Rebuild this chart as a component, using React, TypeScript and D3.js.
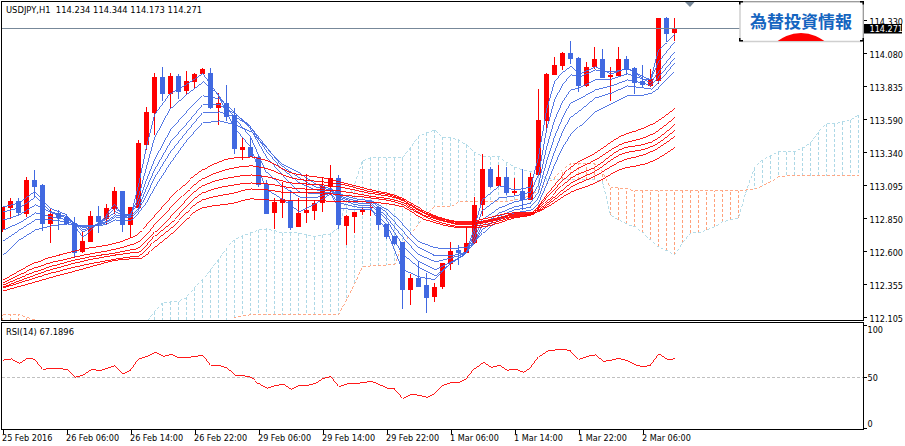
import { useEffect, useRef } from "react";
import * as d3 from "d3";

const WIDTH = 905;
const HEIGHT = 446;
const FONT = "'DejaVu Sans Condensed', 'Liberation Sans', sans-serif";
const FONT_SIZE = "9px";
const TITLE_SIZE = "9.3px";

const UP = "#ff0000";
const DOWN = "#4169e1";
const SLATE = "#778899";
const SPAN_A = "#add8e6";
const SPAN_B = "#ffa07a";

const opens = [
  112.765, 112.922, 112.975, 112.877, 113.132, 113.094, 112.802, 112.885, 112.855, 112.81,
  112.592, 112.667, 112.862, 112.84, 112.915, 113.049, 112.795, 112.922, 113.394, 113.634,
  113.903, 113.776, 113.911, 113.798, 113.866, 113.926, 113.933, 113.671, 113.709, 113.619,
  113.357, 113.379, 113.304, 113.102, 112.885, 112.96, 112.975, 112.78, 112.885, 112.9,
  112.96, 113.079, 113.147, 112.787, 112.855, 112.892, 112.922, 112.93, 112.802, 112.712,
  112.667, 112.308, 112.398, 112.345, 112.255, 112.33, 112.503, 112.608, 112.585, 112.66,
  112.945, 113.214, 113.087, 113.154, 113.034, 113.049, 112.982, 113.169, 113.574, 113.918,
  113.986, 114.083, 114.046, 113.836, 113.978, 114.038, 113.903, 113.911, 114.038, 113.971,
  113.873, 113.836, 113.873, 114.345, 114.234,
];
const highs = [
  112.93, 112.997, 112.997, 113.154, 113.207, 113.102, 112.915, 112.907, 112.877, 112.855,
  112.75, 112.9, 112.937, 112.952, 113.079, 113.049, 112.93, 113.431, 113.679, 113.933,
  113.978, 113.933, 113.926, 113.948, 113.933, 113.971, 113.971, 113.783, 113.843, 113.671,
  113.446, 113.446, 113.319, 113.132, 112.997, 113.117, 113.057, 112.997, 113.177, 112.982,
  113.154, 113.244, 113.169, 112.87, 112.892, 112.93, 112.952, 112.93, 112.802, 112.712,
  112.667, 112.428, 112.525, 112.435, 112.36, 112.51, 112.667, 112.645, 112.78, 113.004,
  113.327, 113.229, 113.244, 113.229, 113.147, 113.214, 113.184, 113.813, 113.933, 114.053,
  114.091, 114.173, 114.053, 114.016, 114.128, 114.113, 113.978, 114.128, 114.061, 113.978,
  113.993, 113.963, 114.345, 114.353, 114.344,
];
const lows = [
  112.742, 112.84, 112.87, 112.855, 113.004, 112.75, 112.66, 112.757, 112.795, 112.548,
  112.585, 112.667, 112.735, 112.795, 112.877, 112.742, 112.697, 112.915, 113.357, 113.469,
  113.724, 113.671, 113.739, 113.768, 113.813, 113.926, 113.664, 113.544, 113.574, 113.327,
  113.282, 113.304, 113.079, 112.877, 112.765, 112.847, 112.757, 112.78, 112.81, 112.832,
  112.892, 113.019, 112.765, 112.645, 112.735, 112.87, 112.862, 112.757, 112.69, 112.645,
  112.166, 112.196, 112.33, 112.136, 112.218, 112.315, 112.458, 112.495, 112.585, 112.652,
  112.862, 113.072, 113.079, 113.019, 113.019, 112.907, 112.982, 113.169, 113.491, 113.918,
  113.956, 114.001, 113.791, 113.828, 113.963, 113.896, 113.724, 113.911, 113.918, 113.776,
  113.828, 113.828, 113.851, 114.165, 114.173,
];
const closes = [
  112.93, 112.975, 112.885, 113.132, 113.079, 112.802, 112.877, 112.847, 112.802, 112.585,
  112.675, 112.862, 112.817, 112.922, 113.049, 112.795, 112.93, 113.409, 113.641, 113.903,
  113.776, 113.911, 113.791, 113.873, 113.926, 113.963, 113.671, 113.709, 113.604, 113.364,
  113.379, 113.304, 113.094, 112.877, 112.967, 112.99, 112.772, 112.885, 112.907, 112.96,
  113.087, 113.147, 112.795, 112.862, 112.892, 112.915, 112.93, 112.795, 112.705, 112.652,
  112.308, 112.398, 112.33, 112.248, 112.33, 112.51, 112.6, 112.585, 112.66, 112.945,
  113.214, 113.079, 113.154, 113.034, 113.049, 112.982, 113.154, 113.581, 113.926, 113.993,
  114.083, 114.038, 113.836, 113.978, 114.038, 113.896, 113.918, 114.038, 113.956, 113.858,
  113.843, 113.888, 114.345, 114.225, 114.271,
];

const blueBars = [
  0, 2, 4, 6, 8, 10, 12, 13, 14, 15, 16, 17, 18, 19, 21, 23, 25, 27, 29, 31, 33, 35, 37, 39, 41, 42,
  44, 46, 48, 50, 52, 54, 56, 58, 59, 60, 62, 64, 66, 67, 68, 69, 70, 71, 72, 74, 76, 78, 80, 81, 82, 83, 84,
];
const blue1 = [
  112.93, 112.96, 113.049, 112.915, 112.87, 112.705, 112.817, 112.87, 112.952, 112.87, 112.855, 113.094, 113.379,
  113.619, 113.783, 113.851, 113.933, 113.761, 113.521, 113.379, 113.057, 112.982, 112.892, 112.952, 113.034, 112.922,
  112.907, 112.915, 112.757, 112.458, 112.405, 112.383, 112.51, 112.592, 112.78, 112.99, 113.087, 113.057, 113.079,
  113.304, 113.656, 113.866, 113.941, 113.986, 113.926, 113.978, 113.926, 113.971, 113.888, 113.881, 114.106, 114.165, 114.225,
];
const blue2 = [
  112.892, 112.922, 113.004, 112.892, 112.855, 112.742, 112.81, 112.855, 112.915, 112.877, 112.87, 113.004, 113.229,
  113.446, 113.671, 113.776, 113.866, 113.768, 113.596, 113.454, 113.184, 113.079, 113.004, 112.997, 113.034, 112.96,
  112.93, 112.922, 112.795, 112.57, 112.473, 112.413, 112.51, 112.585, 112.735, 112.907, 112.997, 113.012, 113.042,
  113.169, 113.506, 113.731, 113.843, 113.918, 113.903, 113.956, 113.941, 113.963, 113.903, 113.881, 114.016, 114.091, 114.165,
];
const blue3 = [
  112.832, 112.87, 112.945, 112.885, 112.847, 112.757, 112.802, 112.847, 112.892, 112.87, 112.877, 112.96, 113.132,
  113.282, 113.506, 113.641, 113.761, 113.739, 113.634, 113.514, 113.304, 113.169, 113.042, 113.027, 113.042, 112.99,
  112.945, 112.937, 112.832, 112.645, 112.518, 112.458, 112.518, 112.585, 112.697, 112.84, 112.922, 112.967, 112.997,
  113.094, 113.372, 113.581, 113.716, 113.806, 113.821, 113.881, 113.888, 113.926, 113.888, 113.858, 113.941, 114.016, 114.091,
];
const blue4 = [
  112.757, 112.81, 112.885, 112.855, 112.832, 112.772, 112.802, 112.825, 112.87, 112.855, 112.87, 112.922, 113.072,
  113.207, 113.416, 113.551, 113.694, 113.694, 113.626, 113.529, 113.349, 113.207, 113.109, 113.057, 113.049, 113.004,
  112.96, 112.952, 112.855, 112.705, 112.57, 112.518, 112.548, 112.585, 112.667, 112.795, 112.885, 112.93, 112.96,
  113.042, 113.267, 113.454, 113.596, 113.709, 113.739, 113.806, 113.836, 113.881, 113.858, 113.836, 113.903, 113.971, 114.046,
];
const blue5 = [
  112.675, 112.757, 112.832, 112.832, 112.817, 112.78, 112.795, 112.817, 112.855, 112.847, 112.855, 112.907, 113.019,
  113.147, 113.342, 113.491, 113.634, 113.641, 113.604, 113.529, 113.379, 113.229, 113.147, 113.079, 113.057, 113.012,
  112.975, 112.967, 112.885, 112.75, 112.623, 112.563, 112.563, 112.592, 112.66, 112.765, 112.862, 112.907, 112.93,
  112.997, 113.169, 113.342, 113.491, 113.604, 113.649, 113.746, 113.783, 113.836, 113.821, 113.813, 113.866, 113.933, 114.008,
];
const blue6 = [
  112.57, 112.682, 112.757, 112.787, 112.802, 112.787, 112.787, 112.802, 112.832, 112.825, 112.832, 112.885, 112.96,
  113.072, 113.259, 113.424, 113.559, 113.574, 113.544, 113.491, 113.372, 113.244, 113.184, 113.102, 113.064, 113.027,
  112.99, 112.975, 112.907, 112.802, 112.667, 112.623, 112.615, 112.63, 112.667, 112.735, 112.84, 112.885, 112.907,
  112.96, 113.094, 113.244, 113.372, 113.469, 113.529, 113.641, 113.701, 113.761, 113.768, 113.783, 113.821, 113.881, 113.941,
];

const redBars = [0, 4, 9, 16, 17, 19, 21, 25, 29, 31, 33, 36, 40, 42, 45, 50, 52, 54, 58, 60, 64, 66, 68, 71, 74, 77, 81, 84];
const red1 = [
  112.383, 112.51, 112.6, 112.697, 112.735, 112.862, 112.997, 113.207, 113.297, 113.304, 113.274, 113.184, 113.147, 113.117,
  113.072, 112.99, 112.922, 112.862, 112.817, 112.84, 112.885, 112.885, 113.019, 113.229, 113.334, 113.454, 113.544, 113.671,
];
const red2 = [
  112.36, 112.473, 112.555, 112.645, 112.667, 112.795, 112.922, 113.139, 113.222, 113.237, 113.214, 113.147, 113.117, 113.102,
  113.057, 112.982, 112.907, 112.855, 112.81, 112.825, 112.877, 112.885, 112.997, 113.184, 113.282, 113.394, 113.469, 113.604,
];
const red3 = [
  112.345, 112.443, 112.533, 112.608, 112.623, 112.742, 112.855, 113.087, 113.154, 113.169, 113.154, 113.109, 113.094, 113.079,
  113.042, 112.975, 112.9, 112.847, 112.802, 112.817, 112.87, 112.877, 112.975, 113.147, 113.229, 113.357, 113.416, 113.551,
];
const red4 = [
  112.33, 112.42, 112.51, 112.585, 112.592, 112.712, 112.81, 113.034, 113.094, 113.109, 113.102, 113.072, 113.057, 113.049,
  113.019, 112.96, 112.885, 112.84, 112.795, 112.81, 112.862, 112.877, 112.96, 113.109, 113.199, 113.319, 113.379, 113.506,
];
const red5 = [
  112.323, 112.398, 112.48, 112.555, 112.563, 112.675, 112.772, 112.982, 113.034, 113.064, 113.057, 113.034, 113.034, 113.019,
  113.004, 112.945, 112.877, 112.825, 112.78, 112.795, 112.855, 112.87, 112.945, 113.079, 113.162, 113.267, 113.342, 113.461,
];
const red6 = [
  112.3, 112.368, 112.45, 112.54, 112.54, 112.63, 112.727, 112.922, 112.96, 112.99, 112.982, 112.975, 112.975, 112.967,
  112.967, 112.93, 112.855, 112.81, 112.772, 112.78, 112.847, 112.87, 112.93, 113.042, 113.109, 113.207, 113.267, 113.379,
];

// cloud runs past the last candle; values under the axis are guesses, they get clipped
const spanA = [
  112, 112, 112, 112, 112, 112, 112, 112, 112, 112, 112, 112, 112, 112, 112, 112, 112, 112,
  112.068, 112.143, 112.211, 112.218, 112.218, 112.256, 112.323, 112.383, 112.458, 112.533, 112.623, 112.682,
  112.712, 112.735, 112.757, 112.765, 112.75, 112.735, 112.735, 112.735, 112.72, 112.705, 112.72, 112.727,
  112.772, 112.982, 113.094, 113.274, 113.297, 113.297, 113.297, 113.297, 113.297, 113.372, 113.461, 113.484,
  113.506, 113.454, 113.446, 113.431, 113.394, 113.334, 113.312, 113.304, 113.304, 113.259, 113.229, 113.207,
  113.192, 113.169, 113.147, 113.132, 113.132, 113.132, 113.132, 113.132, 113.132, 113.117, 112.87, 112.832,
  112.802, 112.78, 112.735, 112.682, 112.63, 112.6, 112.57, 112.66, 112.735, 112.735, 112.757, 112.78,
  112.817, 112.832, 112.847, 113.057, 113.222, 113.282, 113.312, 113.342, 113.342, 113.342, 113.372, 113.409,
  113.491, 113.551, 113.551, 113.566, 113.581, 113.619,
];
const spanB = [
  112.121, 112.121, 112.121, 112.106, 112.083, 112.05, 112.05, 112.05, 112.05, 112.05, 112.05, 112.05, 112.05, 112.05,
  112.05, 112.05, 112.05, 112.05, 112.05, 112.05, 112.05, 112.05, 112.05, 112.05, 112.05, 112.05, 112.05, 112.05, 112.05,
  112.098, 112.113, 112.121, 112.121, 112.121, 112.121, 112.121, 112.121, 112.121, 112.121, 112.121, 112.121, 112.121, 112.121,
  112.233, 112.353, 112.48, 112.488, 112.488, 112.495, 112.495, 112.645, 112.727, 112.802, 112.877, 112.93, 112.93, 112.93,
  112.967, 112.967, 112.967, 112.967, 112.967, 112.967, 112.967, 112.982, 112.997, 113.012, 113.057, 113.102, 113.147, 113.207,
  113.252, 113.252, 113.252, 113.252, 113.192, 113.072, 113.072, 113.064, 113.049, 113.049, 113.049, 113.049, 113.049, 113.049,
  113.049, 113.049, 113.049, 113.049, 113.049, 113.049, 113.049, 113.049, 113.057, 113.064, 113.087, 113.117, 113.154,
  113.162, 113.162, 113.162, 113.162, 113.162, 113.162, 113.162, 113.162, 113.162, 113.162,
];

const rsi = [
  66.1, 67.1, 62.9, 67.7, 66.8, 57.1, 58.1, 58.1, 56.5, 49.4, 51.6, 57.1, 55.8, 58.1, 61.0, 52.9, 56.5, 67.1, 69.7, 73.5,
  69.7, 71.6, 68.1, 68.7, 69.4, 71.0, 61.0, 61.0, 58.1, 51.3, 51.0, 49.4, 42.9, 38.7, 41.3, 42.6, 37.7, 41.6, 41.6, 43.5,
  48.4, 50.3, 40.6, 42.9, 43.5, 44.2, 45.5, 42.3, 39.0, 38.1, 29.0, 32.9, 31.9, 30.0, 33.9, 41.9, 44.5, 44.5, 48.4, 58.1,
  63.9, 59.0, 61.0, 56.1, 57.4, 54.2, 59.0, 69.4, 74.8, 75.8, 76.5, 74.8, 66.8, 69.7, 71.0, 64.8, 66.1, 67.7, 65.2, 61.3,
  59.7, 61.3, 71.6, 66.8, 67.1896,
];

const priceTicks = [114.33, 114.08, 113.835, 113.59, 113.34, 113.095, 112.85, 112.6, 112.355, 112.105];
const rsiTicks = [100, 50, 0];
const timeBars = [0, 8, 16, 24, 32, 40, 48, 56, 64, 72, 80];
const timeLabels = [
  "25 Feb 2016", "26 Feb 06:00", "26 Feb 14:00", "26 Feb 22:00", "29 Feb 06:00", "29 Feb 14:00",
  "29 Feb 22:00", "1 Mar 06:00", "1 Mar 14:00", "1 Mar 22:00", "2 Mar 06:00",
];
const lastPrice = 114.271;

export default function App() {
  const svgRef = useRef<SVGSVGElement | null>(null);

  useEffect(() => {
    const svg = svgRef.current;
    if (!svg) return;
    svg.innerHTML = "";

    const root = d3.select(svg).attr("width", WIDTH).attr("height", HEIGHT).style("font-family", FONT);

    const right = 863.5;
    const x = d3.scaleLinear().domain([0, 100]).range([2.5, 802.5]);
    const y = d3.scaleLinear().domain([112.105, 114.33]).range([317, 20]);
    const yRsi = d3.scaleLinear().domain([0, 100]).range([428.3, 325]);

    const defs = root.append("defs");
    defs.append("clipPath").attr("id", "mainClip")
      .append("rect").attr("x", 2).attr("y", 2).attr("width", 861).attr("height", 318);

    const chart = root.append("g").attr("clip-path", "url(#mainClip)");

    // ichimoku cloud
    const hatch = chart.append("g").attr("shape-rendering", "crispEdges");
    hatch.selectAll("line")
      .data(spanA.map((a, i) => ({ a, b: spanB[i], i })))
      .join("line")
      .attr("x1", (d) => x(d.i)).attr("x2", (d) => x(d.i))
      .attr("y1", (d) => y(d.a)).attr("y2", (d) => y(d.b))
      .attr("stroke", (d) => (d.a >= d.b ? SPAN_A : SPAN_B))
      .attr("stroke-dasharray", "3,2");

    const spanLine = d3.line<number>().x((_, i) => x(i)).y((v) => y(v));
    chart.append("path").attr("d", spanLine(spanA)).attr("fill", "none").attr("stroke-width", 0.9)
      .attr("stroke", SPAN_A).attr("stroke-dasharray", "3,2").attr("shape-rendering", "crispEdges");
    chart.append("path").attr("d", spanLine(spanB)).attr("fill", "none").attr("stroke-width", 0.9)
      .attr("stroke", SPAN_B).attr("stroke-dasharray", "3,2").attr("shape-rendering", "crispEdges");

    // price line sits behind the candles
    root.append("line")
      .attr("x1", 2).attr("x2", right)
      .attr("y1", Math.round(y(lastPrice)) + 0.5).attr("y2", Math.round(y(lastPrice)) + 0.5)
      .attr("stroke", SLATE);

    // candles
    const candles = opens.map((o, i) => ({ o, h: highs[i], l: lows[i], c: closes[i], i }));
    const candleG = chart.append("g").attr("shape-rendering", "crispEdges");
    candleG.selectAll("line")
      .data(candles)
      .join("line")
      .attr("x1", (d) => x(d.i)).attr("x2", (d) => x(d.i))
      .attr("y1", (d) => y(d.h)).attr("y2", (d) => y(d.l))
      .attr("stroke", (d) => (d.c >= d.o ? UP : DOWN));
    candleG.selectAll("rect")
      .data(candles)
      .join("rect")
      .attr("x", (d) => x(d.i) - 2.5)
      .attr("width", 5)
      .attr("y", (d) => y(Math.max(d.o, d.c)))
      .attr("height", (d) => Math.max(1, Math.abs(y(d.o) - y(d.c))))
      .attr("fill", (d) => (d.c >= d.o ? UP : DOWN));

    // moving averages
    const drawMa = (bars: number[], series: number[][], color: string, curve: d3.CurveFactory) => {
      series.forEach((values) => {
        const line = d3.line<number>().x((_, i) => x(bars[i])).y((v) => y(v)).curve(curve);
        chart.append("path")
          .attr("d", line(values))
          .attr("fill", "none")
          .attr("stroke", color)
          .attr("stroke-width", 0.9)
          .attr("shape-rendering", "crispEdges");
      });
    };
    drawMa(blueBars, [blue1, blue2, blue3, blue4, blue5, blue6], DOWN, d3.curveLinear);
    drawMa(redBars, [red1, red2, red3, red4, red5, red6], UP, d3.curveMonotoneX);

    // rsi
    root.append("line")
      .attr("x1", 2).attr("x2", right)
      .attr("y1", Math.round(yRsi(50)) + 0.5).attr("y2", Math.round(yRsi(50)) + 0.5)
      .attr("stroke", "#c0c0c0").attr("stroke-dasharray", "3,2");
    const rsiLine = d3.line<number>().x((_, i) => x(i)).y((v) => yRsi(v));
    root.append("path").attr("d", rsiLine(rsi)).attr("fill", "none")
      .attr("stroke", UP).attr("stroke-width", 0.9).attr("shape-rendering", "crispEdges");

    // frames
    const frame = root.append("g").attr("fill", "none").attr("stroke", "#000").attr("shape-rendering", "crispEdges");
    frame.append("rect").attr("x", 1.5).attr("y", 1.5).attr("width", right - 1.5).attr("height", 319);
    frame.append("rect").attr("x", 1.5).attr("y", 322.5).attr("width", right - 1.5).attr("height", 106.5);

    // axes
    const priceAxis = root.append("g")
      .attr("transform", `translate(${right},0)`)
      .call(d3.axisRight(y).tickValues(priceTicks).tickFormat((v) => d3.format(".3f")(v as number)).tickSize(3).tickSizeOuter(0));
    const rsiAxis = root.append("g")
      .attr("transform", `translate(${right},0)`)
      .call(d3.axisRight(yRsi).tickValues(rsiTicks).tickFormat((v) => `${v}`).tickSize(3).tickSizeOuter(0));
    const timeAxis = root.append("g")
      .attr("transform", "translate(0,429.5)")
      .call(d3.axisBottom(x).tickValues(timeBars).tickFormat((_, i) => timeLabels[i]).tickSize(4).tickSizeOuter(0));

    [priceAxis, rsiAxis, timeAxis].forEach((a) => {
      a.select(".domain").remove();
      a.selectAll("line").attr("stroke", "#000").attr("shape-rendering", "crispEdges");
      a.selectAll("text").attr("fill", "#000").style("font-family", FONT).style("font-size", FONT_SIZE);
    });
    priceAxis.selectAll("text").attr("x", 6).attr("dy", "0.5em");
    rsiAxis.selectAll("text").attr("x", 4)
      .attr("dy", (v) => (v === 100 ? "0.85em" : v === 0 ? "-0.2em" : "0.4em"));
    timeAxis.selectAll("text").attr("text-anchor", "start").attr("x", -1).attr("y", 4).attr("dy", "0.8em");

    // titles
    root.append("text").attr("x", 6).attr("y", 13).attr("fill", "#000").style("font-size", TITLE_SIZE)
      .attr("xml:space", "preserve").style("white-space", "pre")
      .text("USDJPY,H1  114.234 114.344 114.173 114.271");
    root.append("text").attr("x", 6).attr("y", 335).attr("fill", "#000").style("font-size", TITLE_SIZE)
      .text("RSI(14) 67.1896");

    // marker at the chart shift
    root.append("path").attr("d", "M685,2 L694.5,2 L690,7 Z").attr("fill", SLATE);

    // banner
    const banner = root.append("g");
    defs.append("clipPath").attr("id", "bannerClip")
      .append("rect").attr("x", 740).attr("y", 2).attr("width", 123).attr("height", 39);
    banner.append("rect").attr("x", 740).attr("y", 2).attr("width", 123).attr("height", 39.5)
      .attr("rx", 2).attr("fill", "#fff").attr("stroke", "#cfcfcf").attr("stroke-width", 1.5);
    banner.append("circle").attr("cx", 801).attr("cy", 71).attr("r", 38).attr("fill", "#ff0000")
      .attr("clip-path", "url(#bannerClip)");
    // black corner marks left by the frame
    banner.selectAll("path.corner")
      .data(["M739,1h4v1.5h-2.5v2h-1.5z", "M860,1h4v3.5h-1.5v-2h-2.5z", "M739,38h1.5v2h2.5v1.5h-4z", "M862.5,38h1.5v3.5h-4v-1.5h2.5z"])
      .join("path")
      .attr("class", "corner")
      .attr("d", (d) => d)
      .attr("fill", "#000");
    banner.append("text").attr("x", 801).attr("y", 28).attr("text-anchor", "middle")
      .attr("fill", "#1565c0").style("font-family", "'Noto Sans CJK JP', sans-serif")
      .style("font-size", "17px").style("font-weight", 700)
      .text("為替投資情報");

    // last price tag
    root.append("rect").attr("x", 864).attr("y", 24).attr("width", 38).attr("height", 9.5).attr("fill", "#000");
    root.append("text").attr("x", 869.5).attr("y", 32).attr("fill", "#fff").style("font-size", FONT_SIZE)
      .text(d3.format(".3f")(lastPrice));
  }, []);

  return <svg ref={svgRef} style={{ position: "fixed", left: 0, top: 0, background: "#fff" }} />;
}
